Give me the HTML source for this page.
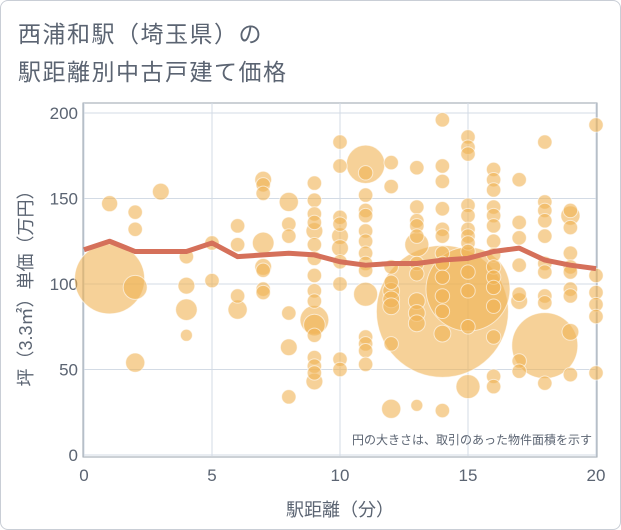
<!DOCTYPE html>
<html><head><meta charset="utf-8">
<style>
body{margin:0;background:#fff;font-family:"Liberation Sans","Noto Sans CJK JP",sans-serif;}
#card{position:absolute;left:0;top:0;width:619px;height:528px;border:1px solid #c9ced6;border-radius:8px;background:#fff;}
.title{position:absolute;left:18px;font-size:23px;color:#5b6472;letter-spacing:1.5px;}
svg{position:absolute;left:0;top:0;}
</style></head><body>
<div id="card"></div>
<div class="title" style="top:15px">西浦和駅（埼玉県）の</div>
<div class="title" style="top:53px">駅距離別中古戸建て価格</div>
<svg id="chart" width="621" height="530"></svg>
<script>
const xTicks=[0,5,10,15,20];
const yTicks=[0,50,100,150,200];
const bubbleX=[1,1,2,2,2,2,3,4,4,4,4,5,5,6,6,6,6,7,7,7,7,7,7,7,7,8,8,8,8,8,8,
9,9,9,9,9,9,9,9,9,9,9,9,9,9,9,9,9,10,10,10,10,10,10,10,10,10,10,
11,11,11,11,11,11,11,11,11,11,11,11,11,11,11,12,12,12,12,12,12,12,12,12,
13,13,13,13,13,13,13,13,13,13,13,13,14,14,14,14,14,14,14,14,14,14,14,14,14,14,
15,15,15,15,15,15,15,15,15,15,15,15,15,15,16,16,16,16,16,16,16,16,16,16,16,16,16,16,16,
17,17,17,17,17,17,17,17,18,18,18,18,18,18,18,18,18,18,18,19,19,19,19,19,19,19,19,19,19,20,20,20,20,20,20];
const bubbleY=[103,147,142,132,98,54,154,116,99,85,70,124,102,134,123,93,85,161,158,153,124,110,108,97,95,148,135,128,83,63,34,
159,149,141,136,131,123,115,105,96,90,79,76,70,57,52,48,43,183,169,139,135,128,121,113,100,56,50,
170,165,152,143,140,131,125,118,112,108,94,69,65,61,53,171,157,110,101,96,91,87,65,27,
168,145,137,134,128,123,112,106,90,83,77,29,84,196,169,160,144,132,128,118,112,104,93,84,71,26,
97,186,180,176,146,140,132,128,124,119,107,96,75,40,167,161,155,145,140,134,125,117,110,104,98,87,69,46,40,
161,136,127,111,94,90,55,49,183,148,143,137,128,112,107,93,89,64,42,143,140,133,118,110,107,97,93,72,47,193,105,95,88,81,48];
const bubbleArea=[850,45,36,36,100,64,49,36,49,81,25,36,36,36,36,36,64,49,36,36,81,49,36,36,36,64,36,36,36,49,36,
36,36,36,36,49,36,36,36,36,36,144,81,36,36,36,36,49,36,36,36,36,49,49,36,36,36,36,
256,36,36,36,36,36,36,36,36,36,100,36,36,36,36,36,36,36,36,49,49,49,36,64,
36,36,36,36,36,100,36,36,49,49,49,25,3025,36,36,36,36,36,36,36,36,36,36,36,49,36,
1225,36,36,36,36,36,36,36,36,36,36,36,36,100,36,36,36,36,36,36,36,36,36,36,36,36,36,36,36,
36,36,36,36,36,49,36,36,36,36,36,36,36,36,36,36,36,756,36,36,64,36,36,36,36,36,36,49,36,36,36,36,36,36,36];
const lineX=[0,1,2,3,4,5,6,7,8,9,10,11,12,13,14,15,16,17,18,19,20];
const lineY=[120,125,119,119,119,124,116,117,118,117,113,111,112,112,114,115,119,121,114,111,109];
const NS="http://www.w3.org/2000/svg";
const svg=document.getElementById('chart');
const L=84,R=596,T=113,B=455;
const xs=v=>L+(v-0)/20*(R-L);
const ys=v=>B-(v-0)/200*(B-T);
const rs=a=>Math.sqrt(a)*1.2;
function mk(t,a,p){const e=document.createElementNS(NS,t);for(const k in a)e.setAttribute(k,a[k]);(p||svg).appendChild(e);return e;}
const frame=mk('rect',{x:L-1,y:T-10,width:R-L+2,height:B-T+12,fill:'none',stroke:'#9aa3ad','stroke-width':1});


xTicks.forEach(t=>{
 const g=mk('line',{x1:xs(t),x2:xs(t),y1:T-10,y2:B+1,stroke:'#d3dbe5','stroke-width':1});
 
 
 const tx=mk('text',{x:xs(t),y:B+26,'text-anchor':'middle','font-size':17,fill:'#5b6472'});
 tx.textContent=t;
 
 
});
yTicks.forEach(t=>{
 const g=mk('line',{x1:L,x2:R,y1:ys(t),y2:ys(t),stroke:'#d3dbe5','stroke-width':1});
 
 
 const tx=mk('text',{x:L-6,y:ys(t)+6,'text-anchor':'end','font-size':17,fill:'#5b6472'});
 tx.textContent=t;
 
 
});
const bg=mk('g',{});


const order=bubbleArea.map((a,i)=>i).sort((a,b)=>bubbleArea[b]-bubbleArea[a]);
order.forEach(i=>{
 const c=mk('circle',{cx:xs(bubbleX[i]),cy:ys(bubbleY[i]),r:rs(bubbleArea[i]),fill:'#f0b354','fill-opacity':0.6,stroke:'#fff','stroke-opacity':0.6,'stroke-width':1},bg);
 
 
});
const ln=mk('polyline',{points:lineX.map((x,i)=>xs(x)+','+ys(lineY[i])).join(' '),fill:'none',stroke:'#d5705a','stroke-width':5,'stroke-linejoin':'round'});


const note=mk('text',{x:592,y:444,'text-anchor':'end','font-size':12,fill:'#5b6472'});
note.textContent='円の大きさは、取引のあった物件面積を示す';


const xt=mk('text',{x:(L+R)/2,y:516,'text-anchor':'middle','font-size':18,fill:'#5b6472'});
xt.textContent='駅距離（分）';


const yt=mk('text',{x:0,y:0,'text-anchor':'middle','font-size':18,fill:'#5b6472',transform:'translate(32,'+((T+B)/2)+') rotate(-90)'});
yt.textContent='坪（3.3㎡）単価（万円）';


</script>
</body></html>
